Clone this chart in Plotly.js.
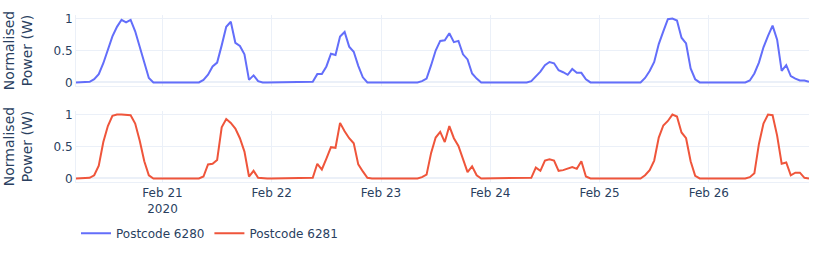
<!DOCTYPE html>
<html>
<head>
<meta charset="utf-8">
<script src="https://cdn.plot.ly/plotly-3.0.1.min.js"></script>
<style>html,body{margin:0;padding:0;background:#fff;}#chart{width:830px;height:260px;}</style>
</head>
<body>
<div id="chart"></div>
<script>
// Hourly samples, first at 2020-02-20 05:00
const startTime = "2020-02-20T05:00:00";
const seriesNames = ["Postcode 6280", "Postcode 6281"];

const power6280 = [
  0,0,0,0.01,0.05,0.13,0.3,0.5,0.72,0.87,0.98,0.94,0.98,0.8,0.55,0.28,0.07,0,0,0,0,0,0,0,
  0,0,0,0,0.04,0.12,0.25,0.31,0.58,0.87,0.95,0.62,0.57,0.44,0.04,0.11,0.02,0,0,0,0,0,0,0,
  0,0,0,0,0.01,0.13,0.13,0.25,0.45,0.43,0.72,0.79,0.56,0.48,0.26,0.08,0,0,0,0,0,0,0,0,
  0,0,0,0,0.02,0.06,0.27,0.5,0.65,0.66,0.77,0.63,0.65,0.44,0.36,0.14,0.06,0,0,0,0,0,0,0,
  0,0,0,0,0.02,0.1,0.17,0.27,0.32,0.3,0.19,0.16,0.12,0.21,0.15,0.15,0.05,0,0,0,0,0,0,0,
  0,0,0,0,0,0.07,0.18,0.32,0.6,0.8,0.99,1.0,0.97,0.7,0.61,0.22,0.05,0,0,0,0,0,0,0,
  0,0,0,0,0.03,0.14,0.31,0.55,0.73,0.89,0.67,0.18,0.27,0.1,0.06,0.03,0.03,0.01
];

const power6281 = [
  0,0,0,0.01,0.05,0.2,0.57,0.82,0.98,1.0,1.0,1.0,0.99,0.86,0.59,0.27,0.05,0,0,0,0,0,0,0,
  0,0,0,0,0.03,0.22,0.23,0.29,0.8,0.93,0.87,0.78,0.63,0.42,0.03,0.12,0.01,0,0,0,0,0,0,0,
  0,0,0,0,0.01,0.23,0.14,0.31,0.49,0.48,0.87,0.74,0.63,0.55,0.22,0.11,0.01,0,0,0,0,0,0,0,
  0,0,0,0,0.02,0.06,0.4,0.64,0.73,0.57,0.82,0.63,0.51,0.3,0.1,0.19,0.05,0,0,0,0,0,0,0,
  0,0,0,0,0.01,0.17,0.12,0.28,0.3,0.28,0.12,0.13,0.15,0.18,0.15,0.27,0.03,0,0,0,0,0,0,0,
  0,0,0,0,0,0.05,0.13,0.28,0.64,0.83,0.9,1.0,0.97,0.72,0.63,0.27,0.04,0,0,0,0,0,0,0,
  0,0,0,0,0.02,0.08,0.54,0.86,1.0,0.99,0.67,0.23,0.25,0.05,0.09,0.09,0.01,0
];

function pad(n){return (n<10?"0":"")+n;}
function hourlyTimes(start, count){
  const t0 = new Date(start + "Z").getTime();
  const out = [];
  for(let k=0;k<count;k++){
    const d = new Date(t0 + k*3600000);
    out.push(d.getUTCFullYear()+"-"+pad(d.getUTCMonth()+1)+"-"+pad(d.getUTCDate())+" "+pad(d.getUTCHours())+":00");
  }
  return out;
}
const times = hourlyTimes(startTime, power6280.length);

const traces = [
  {x: times, y: power6280, type: "scatter", mode: "lines", name: seriesNames[0],
   line: {color: "#636efa", width: 2}, xaxis: "x", yaxis: "y"},
  {x: times, y: power6281, type: "scatter", mode: "lines", name: seriesNames[1],
   line: {color: "#EF553B", width: 2}, xaxis: "x2", yaxis: "y2"}
];

const gridC = "#EBF0F8";
const yCommon = {
  gridcolor: gridC, zerolinecolor: gridC, zerolinewidth: 2, linecolor: gridC,
  tickfont: {size: 12, color: "#2a3f5f"}, automargin: false,
  title: {text: "Normalised<br>Power (W)", font: {size: 14, color: "#2a3f5f"}, standoff: 17},
  tickvals: [0, 0.5, 1], ticktext: ["0", "0.5", "1"]
};
const xCommon = {
  type: "date", gridcolor: gridC, zerolinecolor: gridC, linecolor: gridC,
  tickfont: {size: 12, color: "#2a3f5f"}, automargin: false,
  dtick: 86400000, tick0: "2020-02-21"
};

const layout = {
  width: 830, height: 260,
  margin: {l: 76, r: 21, t: 15, b: 76},
  paper_bgcolor: "#ffffff", plot_bgcolor: "#ffffff",
  font: {family: '"DejaVu Sans", Verdana, sans-serif', size: 12, color: "#2a3f5f"},
  showlegend: true,
  legend: {orientation: "h", x: 0, xanchor: "left", y: -0.22, yanchor: "top", font: {size: 12}},
  xaxis: Object.assign({}, xCommon, {domain: [0, 1], anchor: "y", showticklabels: false, matches: "x2"}),
  xaxis2: Object.assign({}, xCommon, {domain: [0, 1], anchor: "y2"}),
  yaxis: Object.assign({}, yCommon, {domain: [0.575, 1], anchor: "x"}),
  yaxis2: Object.assign({}, yCommon, {domain: [0, 0.425], anchor: "x2"})
};

Plotly.newPlot("chart", traces, layout, {displayModeBar: false, staticPlot: true});
</script>
</body>
</html>
